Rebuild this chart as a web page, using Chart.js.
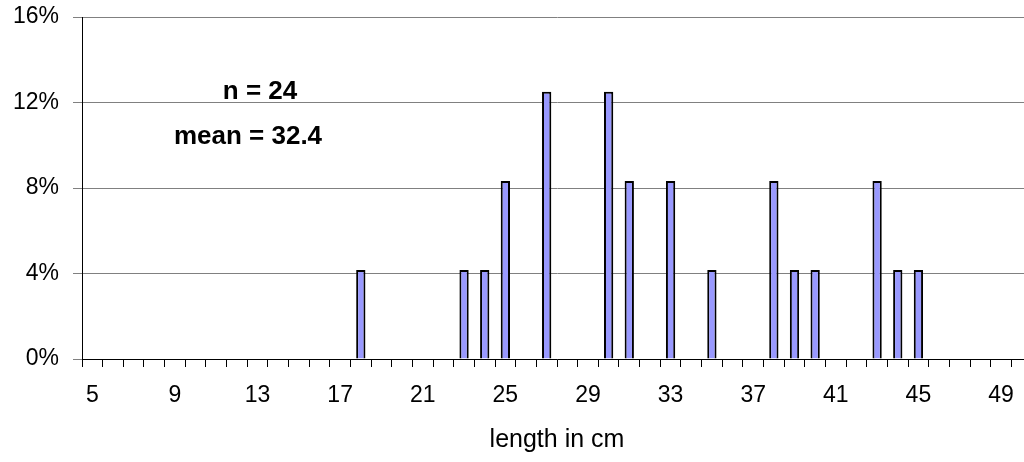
<!DOCTYPE html>
<html>
<head>
<meta charset="utf-8">
<script src="https://cdn.jsdelivr.net/npm/chart.js@4/dist/chart.umd.min.js"></script>
<style>
  html, body { margin: 0; padding: 0; background: #fff; overflow: hidden; }
  #wrap { width: 1024px; height: 462px; overflow: hidden; position: relative; }
  #box { width: 1040px; height: 462px; position: absolute; left: 0; top: 0; }
</style>
</head>
<body>
<div id="wrap"><div id="box"><canvas id="c"></canvas></div></div>
<script>
// Categories: length in cm (5 .. 50; the 50 slot is cropped at the right edge)
const categories = [];
for (let v = 5; v <= 50; v++) categories.push(String(v));

// Counts of fish per length class (n = 24)
const countLengths = ["18","23","24","25","27","30","31","33","35","38","39","40","43","44","45"];
const countValues  = [ 1,   1,   1,   2,   3,   3,   2,   2,   1,   2,   1,   1,   2,   1,   1 ];
const sampleSize = 24;

// Shown tick labels on the x axis
const xTickLabels = ["5","9","13","17","21","25","29","33","37","41","45","49"];
// y ticks
const yTickValues = [0, 0.04, 0.08, 0.12, 0.16];

const annotations = ["n = 24", "mean = 32.4"];

const percentValues = categories.map(c => {
  const i = countLengths.indexOf(c);
  return i >= 0 ? countValues[i] / sampleSize : 0;
});

const FONT = "'Liberation Sans', Arial, sans-serif";

const textPlugin = {
  id: 'texts',
  afterDraw(chart) {
    const ctx = chart.ctx;
    const a = chart.chartArea;
    ctx.save();
    ctx.fillStyle = '#000';
    ctx.font = "bold 26px " + FONT;
    ctx.textAlign = 'center';
    ctx.textBaseline = 'middle';
    ctx.fillText(annotations[0], a.left + 178, a.top + 75);
    ctx.fillText(annotations[1], a.left + 166, a.top + 120);
    ctx.restore();
  }
};

new Chart(document.getElementById('c'), {
  type: 'bar',
  data: {
    labels: categories,
    datasets: [{
      data: percentValues,
      backgroundColor: '#9999FF',
      borderColor: '#000000',
      borderWidth: 2,
      barPercentage: 0.45,
      categoryPercentage: 1.0
    }]
  },
  options: {
    responsive: true,
    maintainAspectRatio: false,
    animation: false,
    devicePixelRatio: 1,
    layout: { padding: { top: 17, right: 8, bottom: 0, left: 0 } },
    plugins: { legend: { display: false }, tooltip: { enabled: false } },
    scales: {
      x: {
        offset: true,
        grid: { display: true, drawOnChartArea: false, drawTicks: true, tickLength: 8, color: '#000', offset: true },
        border: { display: true, color: '#000', width: 1 },
        ticks: {
          autoSkip: false, maxRotation: 0, minRotation: 0, padding: 15,
          color: '#000', font: { family: FONT, size: 23 },
          callback: function(v, i) { const l = this.getLabelForValue(v); return xTickLabels.includes(l) ? l : ''; }
        },
        title: { display: true, text: 'length in cm', color: '#000', font: { family: FONT, size: 25 }, padding: { top: 0, bottom: 7 } },
        afterFit(s) { s.height = 103; }
      },
      y: {
        min: 0, max: 0.16,
        afterBuildTicks(s) { s.ticks = yTickValues.map(v => ({ value: v })); },
        grid: { color: '#808080', tickLength: 9, lineWidth: 1 },
        border: { display: true, color: '#000', width: 1 },
        ticks: {
          padding: 14, color: '#000', font: { family: FONT, size: 23, lineHeight: 0.1 },
          callback: v => Math.round(v * 100) + '%'
        },
        afterFit(s) { s.width = 82; }
      }
    }
  },
  plugins: [textPlugin]
});
</script>
</body>
</html>
